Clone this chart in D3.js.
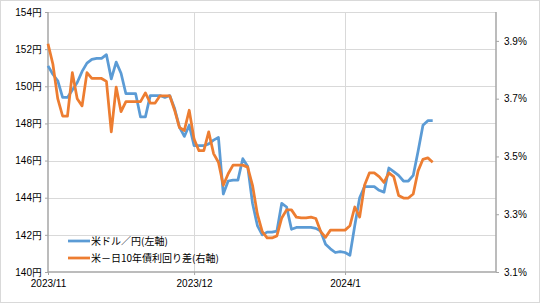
<!DOCTYPE html>
<html><head><meta charset="utf-8">
<script src="https://cdn.jsdelivr.net/npm/d3@7"></script>
<style>
html,body{margin:0;padding:0;background:#fff;}
svg{display:block;font-family:"Noto Sans CJK JP","Noto Sans",sans-serif;}
</style></head><body>
<svg id="c" width="540" height="303"></svg>
<script>
// ---- data (daily, from 2023-11-01) ----
const startDate = "2023-11-01";
const usdjpy = [151.1,150.65,150.3,149.4,149.4,149.8,150.2,150.8,151.25,151.45,
  151.5,151.5,151.7,150.4,151.3,150.7,149.6,149.6,149.6,148.35,
  148.35,149.5,149.5,149.5,149.4,149.5,148.8,147.8,147.3,147.9,
  146.8,146.8,146.8,146.9,147.1,147.25,144.2,144.9,144.95,144.95,
  146.1,145.7,143.7,142.5,142.0,142.15,142.15,142.2,143.7,143.5,
  142.3,142.4,142.4,142.4,142.4,142.35,142.2,141.5,141.25,141.05,
  141.1,141.05,140.9,142.5,144.0,144.6,144.6,144.6,144.4,144.3,
  145.6,145.4,145.2,144.9,144.9,145.2,146.5,147.9,148.15,148.15];
const spread = [3.89,3.82,3.70,3.64,3.64,3.79,3.70,3.675,3.79,3.77,
  3.77,3.77,3.76,3.585,3.74,3.655,3.69,3.69,3.69,3.69,
  3.72,3.685,3.685,3.71,3.71,3.71,3.66,3.60,3.59,3.66,
  3.56,3.52,3.52,3.585,3.51,3.48,3.40,3.44,3.47,3.47,
  3.47,3.463,3.40,3.30,3.24,3.218,3.218,3.225,3.287,3.315,
  3.315,3.29,3.287,3.287,3.29,3.285,3.24,3.22,3.245,3.245,
  3.245,3.245,3.26,3.325,3.29,3.40,3.443,3.443,3.43,3.41,
  3.443,3.43,3.365,3.356,3.356,3.37,3.45,3.49,3.495,3.48];
const leftTicks = [140,142,144,146,148,150,152,154];
const rightTicks = [3.1,3.3,3.5,3.7,3.9];
const monthTicks = ["2023-11-01","2023-12-01","2024-01-01"];
const seriesNames = ["米ドル／円(左軸)","米－日10年債利回り差(右軸)"];
const colors = ["#5B9BD5","#ED7D31"];

const parse = d3.utcParse("%Y-%m-%d");
const t0 = parse(startDate);
const dates = usdjpy.map((_,i)=>d3.utcDay.offset(t0,i));

const L=48,R=496,T=12,B=272;
const svg = d3.select("#c");
svg.append("rect").attr("x",0.5).attr("y",0.5).attr("width",539).attr("height",302)
  .attr("fill","#fff").attr("stroke","#d9d9d9");

const x = d3.scaleUtc().domain([parse("2023-11-01"),parse("2024-02-01")]).range([L,R]);
const yL = d3.scaleLinear().domain([140,154]).range([B,T]);
const yR = d3.scaleLinear().domain([3.1,4.0]).range([B,T]);

// grid
const g = svg.append("g");
g.selectAll(".h").data(leftTicks.slice(1)).join("line")
  .attr("x1",L).attr("x2",R).attr("y1",d=>Math.round(yL(d))+0.5).attr("y2",d=>Math.round(yL(d))+0.5)
  .attr("stroke","#d9d9d9").attr("stroke-width",1);
g.selectAll(".v").data(monthTicks.slice(1)).join("line")
  .attr("y1",T).attr("y2",B).attr("x1",d=>Math.round(x(parse(d)))+0.5).attr("x2",d=>Math.round(x(parse(d)))+0.5)
  .attr("stroke","#d9d9d9").attr("stroke-width",1);

// axes
const fs = "10px";
const ax = svg.append("g").attr("transform",`translate(0,${B})`)
  .call(d3.axisBottom(x).tickValues(monthTicks.map(parse)).tickFormat(d3.utcFormat("%Y/%-m")).tickSize(3).tickPadding(5));
const ayl = svg.append("g").attr("transform",`translate(${L},0)`)
  .call(d3.axisLeft(yL).tickValues(leftTicks).tickFormat(d=>d+"円").tickSize(3).tickPadding(3));
const ayr = svg.append("g").attr("transform",`translate(${R},0)`)
  .call(d3.axisRight(yR).tickValues(rightTicks).tickFormat(d=>d.toFixed(1)+"%").tickSize(3).tickPadding(5));
[ax,ayl,ayr].forEach(a=>{
  a.selectAll(".domain").attr("stroke","#a6a6a6").attr("stroke-width",1.5);
  a.selectAll(".tick line").attr("stroke","#a6a6a6");
  a.selectAll("text").attr("fill","#000").style("font-size",fs).attr("font-family",null);
});
ax.select(".domain").attr("d",`M${L},0H${R}`);
ayl.select(".domain").attr("d",`M0,${T}V${B}`);
ayr.select(".domain").attr("d",`M0,${T}V${B}`);

// lines
const lineL = d3.line().x((d,i)=>x(dates[i])).y(d=>yL(d));
const lineR = d3.line().x((d,i)=>x(dates[i])).y(d=>yR(d));
svg.append("path").attr("d",lineL(usdjpy)).attr("fill","none").attr("stroke",colors[0])
  .attr("stroke-width",2.75).attr("stroke-linejoin","round");
svg.append("path").attr("d",lineR(spread)).attr("fill","none").attr("stroke",colors[1])
  .attr("stroke-width",2.75).attr("stroke-linejoin","round");

// legend
const lg = svg.append("g");
seriesNames.forEach((n,i)=>{
  const yy = 241 + i*17;
  lg.append("line").attr("x1",68).attr("x2",90).attr("y1",yy).attr("y2",yy)
    .attr("stroke",colors[i]).attr("stroke-width",2.75);
  lg.append("text").attr("x",91).attr("y",yy+3.5).text(n).style("font-size",fs).attr("fill","#000");
});
</script></body></html>
